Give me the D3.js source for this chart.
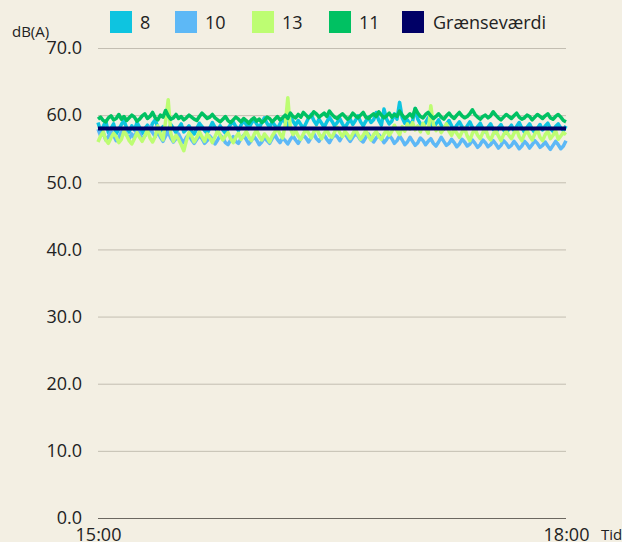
<!DOCTYPE html>
<html>
<head>
<meta charset="utf-8">
<script src="https://cdn.jsdelivr.net/npm/d3@7"></script>
<style>
  html, body { margin: 0; padding: 0; background: #f3efe3; }
  svg { display: block; font-family: "Open Sans", "Noto Sans", sans-serif; }
</style>
</head>
<body>
<div id="app"></div>
<script>

//
// Data (one reading per minute, 15:00 - 18:00)
//

const seriesNames = ['8', '10', '13', '11']
const limitName = 'Grænseværdi'
const limitValue = 58
const yTicks = [0, 10, 20, 30, 40, 50, 60, 70]
const xTickLabels = ['15:00', '18:00']

const values8 = [
  58.9, 57.6, 58.3, 59.1, 57.4, 58.0, 58.7, 57.2, 57.9, 58.6, 59.2, 58.1, 57.5, 58.4, 57.8, 58.9, 58.2, 57.3, 58.0, 58.5,
  57.7, 58.8, 59.3, 58.2, 57.6, 58.3, 57.1, 57.8, 58.6, 58.0, 57.4, 58.1, 58.7, 57.5, 57.9, 58.4, 57.6, 57.2, 58.0, 58.8,
  58.3, 57.7, 57.3, 58.1, 58.9, 58.2, 57.6, 58.4, 57.8, 57.3, 58.0, 58.6, 59.0, 58.3, 57.7, 58.5, 59.2, 58.6, 58.0, 58.8,
  59.4, 58.7, 58.1, 58.9, 59.6, 58.8, 58.2, 59.0, 58.5, 57.9, 58.7, 59.5, 58.9, 58.3, 59.8, 59.1, 58.5, 59.2, 58.6, 58.0,
  58.8, 59.6, 60.1, 59.2, 58.6, 59.4, 58.8, 58.2, 59.0, 59.7, 59.1, 58.4, 58.9, 59.5, 58.7, 58.1, 58.8, 59.4, 58.6, 59.2,
  59.9, 59.0, 58.4, 59.1, 59.7, 58.9, 59.3, 60.4, 59.2, 58.5, 60.9, 59.4, 58.7, 59.1, 60.2, 59.4, 61.9, 59.6, 58.8, 59.3,
  58.6, 59.1, 61.0, 59.4, 58.7, 58.2, 58.9, 59.6, 58.8, 58.1, 58.7, 59.3, 58.5, 57.9, 58.6, 59.2, 58.4, 57.8, 58.5, 59.0,
  58.3, 57.7, 58.4, 59.0, 58.2, 57.6, 58.3, 58.8, 58.0, 57.5, 58.2, 58.7, 57.9, 57.4, 58.1, 58.6, 57.8, 57.3, 58.0, 58.5,
  57.7, 58.3, 58.9, 58.1, 57.5, 58.2, 58.7, 57.9, 57.4, 58.0, 58.6, 57.8, 58.4, 58.8, 58.0, 57.6, 58.3, 58.7, 58.1, 57.7, 58.4
]

const values10 = [
  57.9, 56.9, 57.4, 56.3, 56.8, 57.6, 57.0, 56.2, 56.7, 57.5, 58.0, 57.1, 56.5, 57.2, 56.6, 57.8, 57.3, 56.4, 56.9, 57.7,
  58.3, 57.4, 56.8, 57.6, 56.7, 56.1, 56.9, 57.5, 56.6, 56.0, 56.5, 57.2, 56.4, 55.9, 56.7, 57.1, 56.3, 55.8, 56.4, 57.0,
  56.5, 55.8, 56.2, 56.9, 56.4, 55.7, 56.3, 57.0, 56.6, 55.9, 55.6, 56.3, 56.8, 56.1, 55.8, 56.5, 57.0, 56.4, 55.7, 56.2,
  56.8, 56.3, 55.6, 56.0, 56.7, 56.2, 55.8, 56.5, 57.1, 56.4, 55.9, 56.6, 56.2, 55.7, 56.4, 56.9, 56.3, 55.8, 56.5, 57.0,
  56.6, 56.0, 56.7, 57.2, 56.5, 56.1, 56.8, 57.0, 56.4, 55.9, 56.6, 57.1, 56.8, 56.2, 56.9, 57.3, 56.6, 56.1, 56.7, 57.2,
  56.9, 56.3, 56.0, 56.7, 57.2, 56.5, 56.0, 56.6, 57.1, 56.6, 55.9, 56.4, 57.0, 56.5, 55.8, 56.2, 56.9, 56.3, 55.6, 56.0,
  56.7, 56.1, 55.5, 55.9, 56.6, 56.2, 55.6, 56.1, 56.5, 55.8, 55.4, 56.0, 56.7, 56.1, 55.5, 55.8, 56.4, 55.9, 55.3, 55.7,
  56.4, 56.0, 55.4, 55.7, 56.3, 55.8, 55.2, 55.6, 56.3, 55.9, 55.3, 55.6, 56.2, 55.7, 55.1, 55.5, 56.2, 55.8, 55.2, 55.5,
  56.1, 55.6, 55.0, 55.4, 56.1, 55.7, 55.1, 55.6, 56.2, 55.8, 55.2, 55.5, 56.0, 55.4, 54.9, 55.5, 56.1, 55.6, 55.0, 55.4, 56.2
]

const values13 = [
  56.0, 56.9, 57.5, 56.3, 55.8, 56.6, 57.3, 56.8, 55.9, 56.4, 57.6, 57.0, 56.2, 55.7, 56.5, 57.4, 56.7, 56.1, 56.9, 57.8,
  56.6, 56.0, 56.8, 58.4, 57.1, 56.3, 59.1, 62.3, 57.3, 56.1, 57.0, 56.4, 55.6, 54.7, 56.2, 57.4, 56.9, 56.0, 56.7, 57.5,
  56.8, 56.1, 57.2, 56.6, 55.9, 56.8, 57.7, 57.0, 56.3, 56.9, 57.4, 56.5, 55.9, 56.7, 57.3, 56.4, 56.9, 57.6, 56.8, 56.2,
  57.1, 57.8, 56.9, 56.3, 57.2, 56.7, 56.0, 56.9, 57.5, 58.0, 57.2, 56.6, 58.5, 62.6, 58.0, 57.1, 57.7, 56.9, 56.4, 57.2,
  57.9, 57.3, 56.6, 57.5, 58.1, 57.2, 56.5, 57.3, 57.8, 57.0, 56.7, 57.5, 58.2, 57.4, 56.8, 57.6, 57.1, 56.5, 57.2, 57.9,
  57.1, 56.4, 57.0, 57.7, 56.9, 56.3, 57.1, 57.6, 56.8, 56.4, 57.2, 57.8, 57.0, 57.6, 58.5, 57.7, 57.1, 58.3, 57.6, 58.7,
  57.9, 58.9, 57.8, 58.4, 57.5, 58.8, 58.0, 57.3, 61.4, 58.6, 57.7, 58.2, 57.4, 58.0, 58.7, 57.6, 57.0, 57.9, 57.3, 56.7,
  57.5, 58.1, 56.9, 56.2, 57.3, 57.9, 57.0, 56.5, 57.4, 58.0, 56.8, 56.3, 57.2, 57.7, 56.9, 56.2, 57.1, 57.6, 57.0, 56.5,
  57.3, 57.9, 56.8, 56.2, 57.1, 57.7, 56.9, 56.3, 57.2, 57.8, 56.7, 56.2, 57.1, 57.6, 56.5, 57.0, 57.7, 56.4, 56.9, 57.4, 57.1
]

const values11 = [
  59.4, 59.7, 59.2, 59.0, 59.6, 59.9, 59.3, 59.5, 60.1, 59.4, 59.8, 59.2, 59.6, 60.0, 59.7, 59.1, 59.4, 59.9, 60.2, 59.5,
  59.8, 60.4, 59.6, 59.3, 60.0, 59.7, 60.7, 59.9, 59.4, 59.6, 60.1, 59.5, 59.8, 59.3, 59.6, 60.0, 59.7, 59.4, 59.2, 59.8,
  60.3, 59.9, 59.5, 59.7, 60.1, 59.6, 59.3, 59.0, 59.4, 59.8, 59.2, 58.9, 59.3, 59.7, 59.4, 59.0, 59.5, 59.2, 58.8, 59.3,
  59.6, 59.1, 59.4, 58.9, 59.2, 59.7, 59.5, 59.0, 59.4, 59.8, 59.3, 59.6, 60.0, 59.5, 60.3, 59.8, 59.6, 60.1, 59.7, 60.4,
  60.0, 59.6, 59.9, 60.5, 60.2, 59.7, 60.0, 60.3, 59.8, 60.6, 60.1, 59.7, 59.5, 59.9, 60.2, 59.8, 59.4, 59.7, 60.3, 59.9,
  59.6, 60.0, 60.4, 59.7, 59.5, 59.9, 60.2, 59.8, 60.5, 60.0, 59.6, 59.9, 60.3, 59.7, 60.1, 59.8, 60.6, 60.0, 59.5, 59.8,
  60.2, 59.7, 61.0, 60.3, 59.8, 59.6, 60.1, 60.4, 59.9, 59.5, 59.8, 60.2, 59.7, 59.4, 59.9, 60.3, 59.8, 59.5, 60.0, 60.4,
  59.9, 59.6, 59.8, 60.2, 60.8, 60.1, 59.7, 59.4, 59.8, 60.0, 59.6, 59.9, 60.5, 60.0, 59.6, 59.3, 59.7, 60.1, 59.8, 59.5,
  59.9, 60.3, 59.7, 59.4, 59.6, 60.0, 59.8, 59.3, 59.7, 60.1, 59.8, 59.5, 59.9, 60.2, 59.6, 59.4, 59.8, 60.1, 59.7, 59.2, 59.0
]

const colors = ['#0ec4e0', '#5db8f6', '#bdfd72', '#00c162']
const limitColor = '#000066'


//
// Layout
//

const width = 622
const height = 542
const margin = { top: 48, right: 56, bottom: 24, left: 98 }

const parseTime = d3.timeParse('%H:%M')
const start = parseTime(xTickLabels[0])
const end = parseTime(xTickLabels[1])
const minute = i => d3.timeMinute.offset(start, i)

const series = [values8, values10, values13, values11].map((vals, k) => ({
  name: seriesNames[k],
  color: colors[k],
  points: vals.map((v, i) => ({ t: minute(i), v }))
}))


//
// Scales
//

const x = d3.scaleTime()
  .domain([start, end])
  .range([margin.left, width - margin.right])

const y = d3.scaleLinear()
  .domain([0, 70])
  .range([height - margin.bottom, margin.top])


//
// Chart
//

const svg = d3.select('#app').append('svg')
  .attr('width', width)
  .attr('height', height)

svg.append('rect')
  .attr('width', width)
  .attr('height', height)
  .attr('fill', '#f3efe3')

const textColor = '#222'
const font = '"Open Sans", "Noto Sans", sans-serif'

// gridlines + y labels
const yAxis = svg.append('g')
  .attr('transform', `translate(${margin.left},0)`)
  .call(d3.axisLeft(y)
    .tickValues(yTicks)
    .tickSize(-(width - margin.left - margin.right))
    .tickPadding(16)
    .tickFormat(d3.format('.1f')))

yAxis.select('.domain').remove()
yAxis.selectAll('.tick line')
  .attr('stroke', d => d === 0 ? '#6b6760' : '#c3beb2')
  .attr('stroke-width', 1)
yAxis.selectAll('.tick text')
  .attr('fill', textColor)
  .attr('font-size', 18)
  .attr('font-family', font)

// x labels
const xAxis = svg.append('g')
  .attr('transform', `translate(0,${height - margin.bottom})`)
  .call(d3.axisBottom(x)
    .tickValues([start, end])
    .tickSize(0)
    .tickPadding(10)
    .tickFormat(d3.timeFormat('%H:%M')))

xAxis.select('.domain').remove()
xAxis.selectAll('.tick text')
  .attr('fill', textColor)
  .attr('font-size', 18)
  .attr('font-family', font)

// axis titles
svg.append('text')
  .attr('x', 12)
  .attr('y', 37)
  .attr('font-size', 15)
  .attr('fill', textColor)
  .text('dB(A)')

svg.append('text')
  .attr('x', 601)
  .attr('y', 540)
  .attr('font-size', 15)
  .attr('fill', textColor)
  .text('Tid')

// lines
const line = d3.line()
  .x(d => x(d.t))
  .y(d => y(d.v))

svg.append('g')
  .attr('fill', 'none')
  .attr('stroke-linejoin', 'round')
  .selectAll('path').data(series)
  .join('path')
  .attr('stroke', d => d.color)
  .attr('stroke-width', 3.5)
  .attr('d', d => line(d.points))

// limit line
svg.append('path')
  .attr('fill', 'none')
  .attr('stroke', limitColor)
  .attr('stroke-width', 4)
  .attr('d', line([{ t: start, v: limitValue }, { t: end, v: limitValue }]))

// legend
const legendItems = series.map(s => ({ name: s.name, color: s.color }))
  .concat([{ name: limitName, color: limitColor }])
const legendX = [110, 175, 252, 329, 402]

const legend = svg.append('g')
  .selectAll('g').data(legendItems)
  .join('g')
  .attr('transform', (d, i) => `translate(${legendX[i]},11)`)

legend.append('rect')
  .attr('width', 22)
  .attr('height', 22)
  .attr('fill', d => d.color)

legend.append('text')
  .attr('x', d => d.name === limitName ? 31 : 30)
  .attr('y', 17.5)
  .attr('font-size', 18)
  .attr('font-family', font)
  .attr('fill', textColor)
  .text(d => d.name)

</script>
</body>
</html>
